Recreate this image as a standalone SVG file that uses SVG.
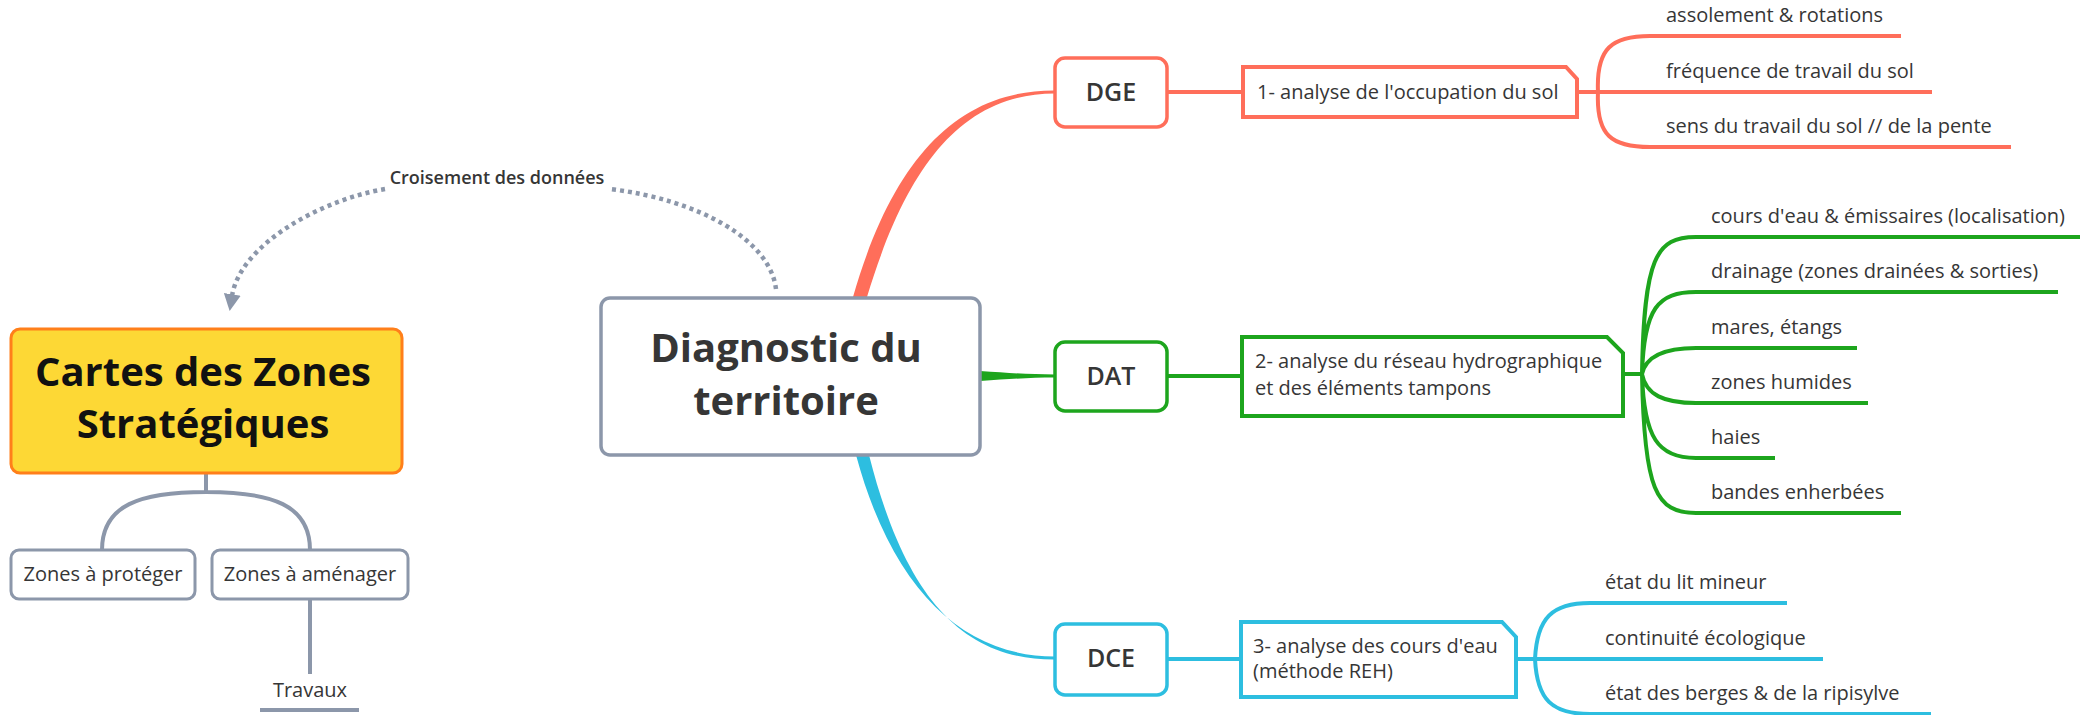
<svg xmlns="http://www.w3.org/2000/svg" width="2080" height="715" viewBox="0 0 2080 715">
<style>
text{font-family:"Open Sans","Liberation Sans",sans-serif;fill:#363636}
.leaf{font-size:20px}
.box{font-size:20px}
.mid{font-size:25px;font-weight:600;text-anchor:middle}
.big{font-size:40px;font-weight:700;text-anchor:middle}
.red{stroke:#FF6E5A}
.grn{stroke:#1DA51D}
.blu{stroke:#2DBEE0}
.ln{fill:none;stroke-width:4;stroke-linecap:butt}
.gry{stroke:#8C97AA}
.dot{fill:none;stroke:#8C97AA;stroke-width:4.5;stroke-dasharray:4 4}
</style>
<defs>
<marker id="arr" viewBox="0 0 10 10" refX="1" refY="5" markerWidth="17" markerHeight="17" orient="auto" markerUnits="userSpaceOnUse">
<path d="M0,0 L10,5 L0,10 Z" fill="#8C97AA"/>
</marker>
</defs>

<g id="connectors">
<path d="M853,297 C893,158 958,90 1055,90.5 L1055,93.5 C962,94 907,165 867,297 Z" fill="#FF6E5A"/>
<path d="M980,371 C1010,373 1030,374.5 1055,374.5 L1055,377.5 C1030,377.5 1010,379 980,381 Z" fill="#1DA51D"/>
<path d="M856,455 C893,592 965,656.5 1055,656.5 L1055,659.5 C962,660 905,597 869,455 Z" fill="#2DBEE0"/>
<path class="dot" d="M776,289 C770,240 700,200 610,189"/>
<path class="dot" d="M385,189 C320,200 240,245 232,296" marker-end="url(#arr)"/>
<path class="ln gry" stroke-width="3" d="M206,473 V492 M102,550 C102,505 140,492 206,492 C272,492 310,505 310,550 M310,599 V674"/>
<line x1="260" y1="710" x2="359" y2="710" class="gry" stroke-width="4"/>
<path class="ln red" d="M1167,92 H1243 M1577,92 H1650 M1598,92 C1596,48 1612,36 1650,36 H1901 M1598,92 C1596,136 1612,147 1650,147 H2011 M1650,92 H1932"/>
<path class="ln grn" d="M1167,376 H1242 M1623,374 H1642 M1642,374 C1644,258 1656,237 1696,237 H2080 M1642,374 C1644,308 1658,292 1696,292 H2058 M1642,374 C1646,356 1664,348 1696,348 H1857 M1642,374 C1646,395 1664,403 1696,403 H1868 M1642,374 C1644,438 1658,458 1696,458 H1775 M1642,374 C1644,490 1656,513 1696,513 H1901"/>
<path class="ln blu" d="M1167,659 H1241 M1516,659 H1590 H1823 M1535,659 C1537,618 1552,603 1590,603 H1787 M1535,659 C1537,700 1552,714 1590,714 H1931"/>
</g>

<g id="croisement">
<text x="497" y="184" font-size="18" font-weight="600" text-anchor="middle">Croisement des données</text>
</g>

<g id="cartes">
<rect x="11" y="329" width="391" height="144" rx="9" fill="#FDD835" stroke="#FF7F1A" stroke-width="3"/>
<text class="big" x="203" y="386" style="fill:#111">Cartes des Zones</text>
<text class="big" x="203" y="438" style="fill:#111">Stratégiques</text>
</g>

<g id="proteger">
<rect x="11" y="550" width="184" height="49" rx="8" fill="#fff" stroke="#8C97AA" stroke-width="3"/>
<text class="box" x="103" y="581" text-anchor="middle">Zones à protéger</text>
</g>
<g id="amenager">
<rect x="212" y="550" width="196" height="49" rx="8" fill="#fff" stroke="#8C97AA" stroke-width="3"/>
<text class="box" x="310" y="581" text-anchor="middle">Zones à aménager</text>
</g>
<g id="travaux">
<text class="box" x="310" y="697" text-anchor="middle">Travaux</text>
</g>

<g id="diagnostic">
<rect x="601" y="298" width="379" height="157" rx="9" fill="#fff" stroke="#8C97AA" stroke-width="3.5"/>
<text class="big" x="786" y="362">Diagnostic du</text>
<text class="big" x="786" y="415">territoire</text>
</g>

<g id="dge">
<rect x="1055" y="58" width="112" height="69" rx="10" fill="#fff" stroke="#FF6E5A" stroke-width="3.5"/>
<text class="mid" x="1111" y="101">DGE</text>
</g>
<g id="dat">
<rect x="1055" y="342" width="112" height="69" rx="10" fill="#fff" stroke="#1DA51D" stroke-width="3.5"/>
<text class="mid" x="1111" y="385">DAT</text>
</g>
<g id="dce">
<rect x="1055" y="624" width="112" height="71" rx="10" fill="#fff" stroke="#2DBEE0" stroke-width="3.5"/>
<text class="mid" x="1111" y="667">DCE</text>
</g>

<g id="analyse1">
<path d="M1243,67 H1566 L1577,79 V117 H1243 Z" fill="#fff" stroke="#FF6E5A" stroke-width="4"/>
<text class="box" x="1257" y="99">1- analyse de l'occupation du sol</text>
</g>
<g id="analyse2">
<path d="M1242,337 H1607 L1623,353 V416 H1242 Z" fill="#fff" stroke="#1DA51D" stroke-width="4"/>
<text class="box" x="1255" y="368">2- analyse du réseau hydrographique</text>
<text class="box" x="1255" y="395">et des éléments tampons</text>
</g>
<g id="analyse3">
<path d="M1241,622 H1502 L1516,637 V697 H1241 Z" fill="#fff" stroke="#2DBEE0" stroke-width="4"/>
<text class="box" x="1253" y="653">3- analyse des cours d'eau</text>
<text class="box" x="1253" y="678">(méthode REH)</text>
</g>

<g id="leaves-red">
<text class="leaf" x="1666" y="22">assolement &amp; rotations</text>
<text class="leaf" x="1666" y="78">fréquence de travail du sol</text>
<text class="leaf" x="1666" y="133">sens du travail du sol // de la pente</text>
</g>
<g id="leaves-green">
<text class="leaf" x="1711" y="223">cours d'eau &amp; émissaires (localisation)</text>
<text class="leaf" x="1711" y="278">drainage (zones drainées &amp; sorties)</text>
<text class="leaf" x="1711" y="334">mares, étangs</text>
<text class="leaf" x="1711" y="389">zones humides</text>
<text class="leaf" x="1711" y="444">haies</text>
<text class="leaf" x="1711" y="499">bandes enherbées</text>
</g>
<g id="leaves-blue">
<text class="leaf" x="1605" y="589">état du lit mineur</text>
<text class="leaf" x="1605" y="645">continuité écologique</text>
<text class="leaf" x="1605" y="700">état des berges &amp; de la ripisylve</text>
</g>
</svg>
